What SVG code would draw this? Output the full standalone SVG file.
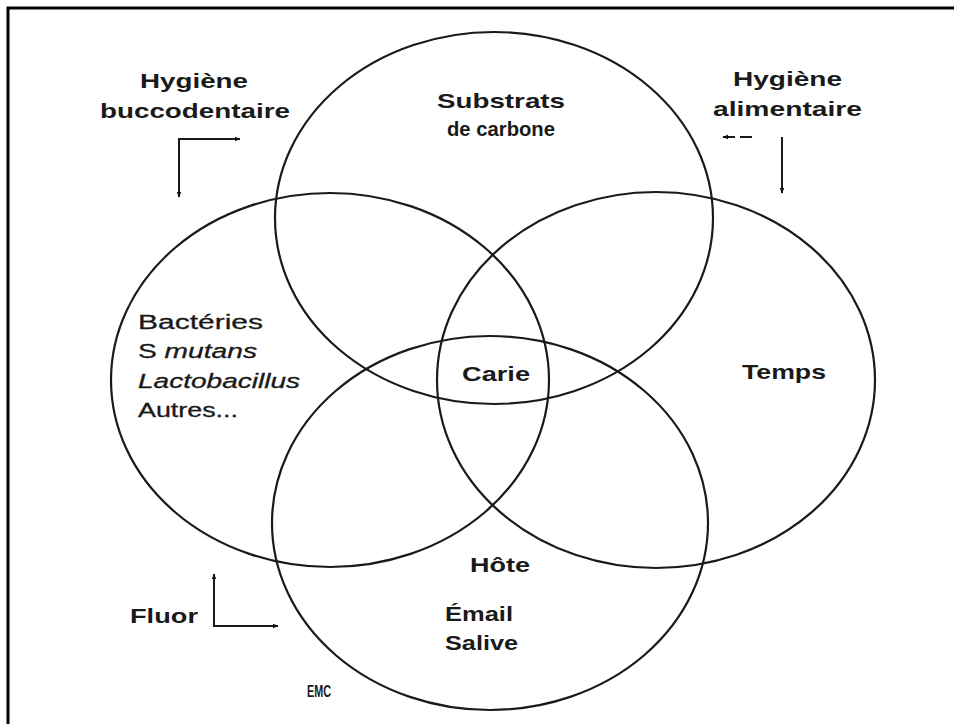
<svg xmlns="http://www.w3.org/2000/svg" width="954" height="724" viewBox="0 0 954 724">
  <defs>
    <marker id="ah" viewBox="0 0 10 10" refX="9" refY="5" markerWidth="6" markerHeight="6" orient="auto" markerUnits="userSpaceOnUse">
      <path d="M0,1 L10,5 L0,9 Z" fill="#111"/>
    </marker>
    <style>
      .ring { fill: none; stroke: #1a1a1a; stroke-width: 2.2; }
      .lbl { font-family: "Liberation Sans", Arial, sans-serif; font-weight: bold; font-size: 21px; fill: #1a1a1a; }
      .reg { font-family: "Liberation Sans", Arial, sans-serif; font-size: 20px; fill: #1a1a1a; stroke: #1a1a1a; stroke-width: 0.3; }
      .it { font-style: italic; }
      .conn { fill: none; stroke: #1a1a1a; stroke-width: 2; }
    </style>
  </defs>
  <rect x="0" y="0" width="954" height="724" fill="#ffffff"/>
  <!-- frame -->
  <path d="M8,724 L8,8 L954,8" fill="none" stroke="#000" stroke-width="3"/>

  <g id="substrats">
    <ellipse class="ring" cx="494" cy="218" rx="219" ry="186"/>
    <text class="lbl" x="437" y="108" textLength="128" lengthAdjust="spacingAndGlyphs">Substrats</text>
    <text class="lbl" x="447" y="136" textLength="108" lengthAdjust="spacingAndGlyphs">de carbone</text>
  </g>

  <g id="bacteries">
    <ellipse class="ring" cx="330" cy="380" rx="219" ry="187"/>
    <text class="reg" x="138" y="329" textLength="125" lengthAdjust="spacingAndGlyphs">Bactéries</text>
    <text class="reg" x="138" y="358" textLength="119" lengthAdjust="spacingAndGlyphs">S <tspan class="it">mutans</tspan></text>
    <text class="reg it" x="138" y="388" textLength="162" lengthAdjust="spacingAndGlyphs">Lactobacillus</text>
    <text class="reg" x="138" y="417" textLength="100" lengthAdjust="spacingAndGlyphs">Autres...</text>
  </g>

  <g id="temps">
    <ellipse class="ring" cx="656" cy="380" rx="219" ry="188"/>
    <text class="lbl" x="742" y="379" textLength="84" lengthAdjust="spacingAndGlyphs">Temps</text>
  </g>

  <g id="hote">
    <ellipse class="ring" cx="490" cy="523" rx="218" ry="187"/>
    <text class="lbl" x="470" y="572" textLength="60" lengthAdjust="spacingAndGlyphs">Hôte</text>
    <text class="lbl" x="445" y="621" textLength="68" lengthAdjust="spacingAndGlyphs">Émail</text>
    <text class="lbl" x="445" y="650" textLength="73" lengthAdjust="spacingAndGlyphs">Salive</text>
  </g>

  <g id="carie">
    <text class="lbl" x="462" y="381" textLength="68" lengthAdjust="spacingAndGlyphs">Carie</text>
  </g>

  <g id="hygiene-bucco">
    <text class="lbl" x="140" y="88" textLength="108" lengthAdjust="spacingAndGlyphs">Hygiène</text>
    <text class="lbl" x="100" y="118" textLength="190" lengthAdjust="spacingAndGlyphs">buccodentaire</text>
  </g>

  <g id="hygiene-alim">
    <text class="lbl" x="733" y="86" textLength="109" lengthAdjust="spacingAndGlyphs">Hygiène</text>
    <text class="lbl" x="713" y="116" textLength="149" lengthAdjust="spacingAndGlyphs">alimentaire</text>
  </g>

  <g id="fluor">
    <text class="lbl" x="130" y="623" textLength="68" lengthAdjust="spacingAndGlyphs">Fluor</text>
  </g>

  <g id="emc">
    <text x="307" y="697" font-family="Liberation Sans Narrow, Liberation Sans, sans-serif" font-size="16" font-weight="bold" fill="#1a1a1a" textLength="24" lengthAdjust="spacingAndGlyphs">EMC</text>
  </g>

  <g id="connectors">
    <path class="conn" d="M179,139 L240,139" marker-end="url(#ah)"/>
    <path class="conn" d="M179,138 L179,197" marker-end="url(#ah)"/>
    <path class="conn" d="M782,137 L782,193" marker-end="url(#ah)"/>
    <path class="conn" d="M752,137 L723,137" stroke-dasharray="12 5" marker-end="url(#ah)"/>
    <path class="conn" d="M214,627 L214,574" marker-end="url(#ah)"/>
    <path class="conn" d="M213,626 L278,626" marker-end="url(#ah)"/>
  </g>
</svg>
